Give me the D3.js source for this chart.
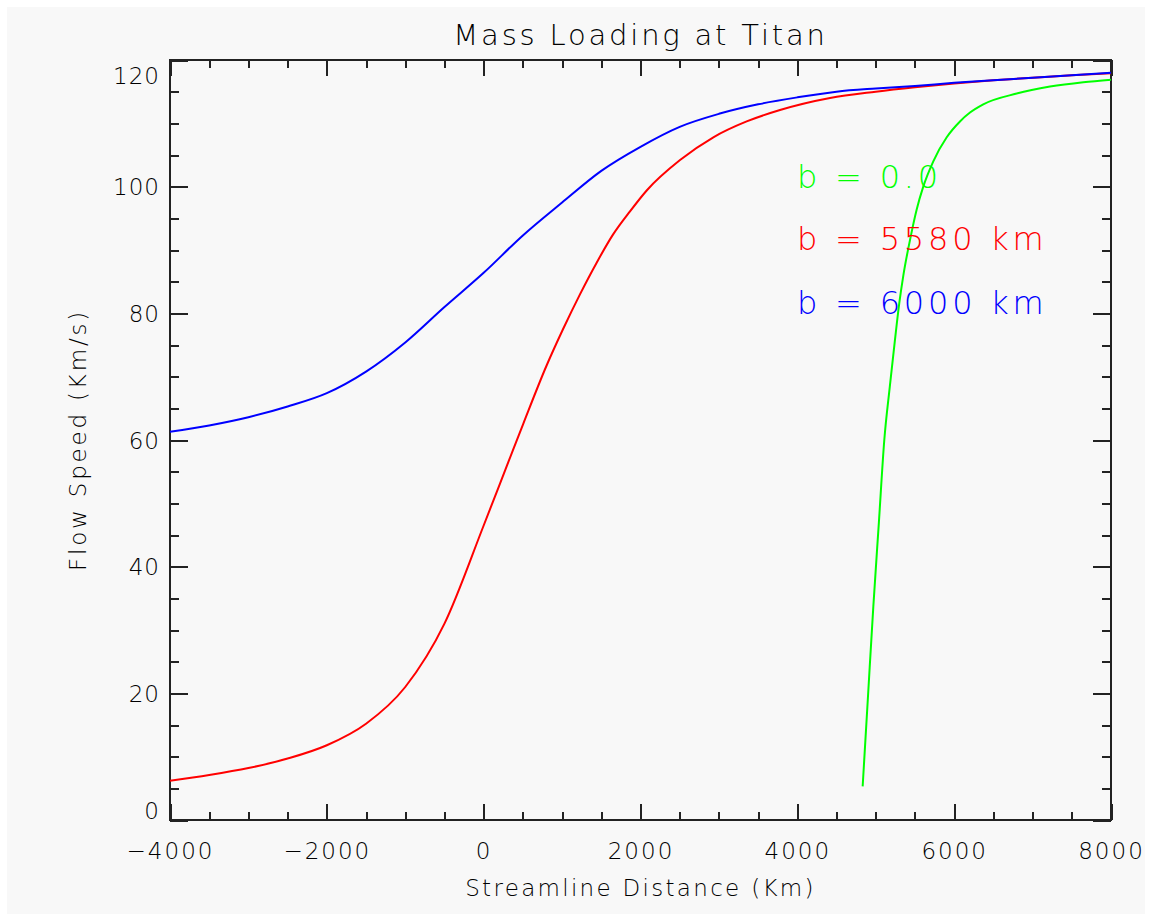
<!DOCTYPE html>
<html>
<head>
<meta charset="utf-8">
<script src="https://cdn.jsdelivr.net/npm/d3@7"></script>
<style>
  html, body { margin: 0; padding: 0; background: #ffffff; }
  svg { display: block; }
  text { font-family: "DejaVu Sans", "Liberation Sans", sans-serif; font-weight: 200; fill: #000; }
</style>
</head>
<body>
<svg id="chart" width="1152" height="921"></svg>
<script>
// ---- Data ----
const title = "Mass Loading at Titan";
const xLabel = "Streamline Distance (Km)";
const yLabel = "Flow Speed (Km/s)";

const xMajorTicks = [-4000, -2000, 0, 2000, 4000, 6000, 8000];
const yMajorTicks = [0, 20, 40, 60, 80, 100, 120];

// b = 6000 km (blue)
const blueX = [-4000, -3500, -3000, -2500, -2000, -1500, -1000, -500, 0, 500, 1000, 1500, 2000, 2500, 3000, 3500, 4000, 4500, 5000, 5500, 6000, 6500, 7000, 7500, 8000];
const blueY = [61.3, 62.3, 63.6, 65.3, 67.4, 70.8, 75.4, 81.0, 86.4, 92.3, 97.5, 102.5, 106.3, 109.45, 111.5, 113.0, 114.1, 115.0, 115.5, 115.9, 116.4, 116.8, 117.2, 117.6, 118.0];

// b = 5580 km (red)
const redX = [-4000, -3500, -3000, -2500, -2000, -1500, -1000, -500, 0, 314, 506, 804, 1016, 1228, 1441, 1653, 1866, 2079, 2504, 2929, 3354, 3779, 4417, 5000, 5500, 6000, 6500, 7000, 7500, 8000];
const redY = [6.2, 7.1, 8.2, 9.7, 11.8, 15.2, 21.0, 31.0, 46.5, 56.5, 62.6, 71.8, 77.6, 83.0, 88.0, 92.5, 96.1, 99.4, 104.2, 107.8, 110.3, 112.1, 114.0, 115.0, 115.7, 116.3, 116.8, 117.2, 117.6, 117.9];

// b = 0.0 (green)
const greenX = [4833, 4900, 4969, 5040, 5109, 5180, 5245, 5300, 5352, 5437, 5522, 5606, 5734, 5905, 6074, 6202, 6371, 6797, 7222, 7646, 8000];
const greenY = [5.3, 19.3, 33.7, 47.0, 60.0, 68.5, 75.8, 81.6, 86.0, 91.6, 96.4, 100.0, 104.0, 107.8, 110.3, 111.7, 113.0, 114.7, 115.8, 116.5, 116.9];

const legendLabels = ["b = 0.0", "b = 5580 km", "b = 6000 km"];
const seriesColors = ["#00ff00", "#ff0000", "#0000ff"];

// ---- Layout ----
const W = 1152, H = 921;
const plot = { left: 170, right: 1111, top: 60, bottom: 820 };

const svg = d3.select("#chart");

svg.append("rect").attr("x", 7).attr("y", 7).attr("width", W - 14).attr("height", H - 14)
  .attr("fill", "#f8f8f8");

const x = d3.scaleLinear().domain([-4000, 8000]).range([plot.left, plot.right]);
const y = d3.scaleLinear().domain([0, 120]).range([plot.bottom, plot.top]);

const xMinor = d3.range(-4000, 8001, 500).filter(v => !xMajorTicks.includes(v));
const yMinor = d3.range(0, 121, 5).filter(v => !yMajorTicks.includes(v));

function styleAxis(g) {
  g.select(".domain").remove();
  g.selectAll(".tick line").attr("stroke", "#222").attr("stroke-width", 2).attr("shape-rendering", "crispEdges");
}

// bottom axis (major with labels)
const gBottom = svg.append("g").attr("transform", `translate(0,${plot.bottom})`)
  .call(d3.axisBottom(x).tickValues(xMajorTicks).tickSizeInner(-16).tickSizeOuter(0).tickPadding(23)
    .tickFormat(d => d < 0 ? "\u2212" + Math.abs(d) : String(d)));
styleAxis(gBottom);
gBottom.selectAll("text").attr("font-size", 23).attr("fill", "#000").attr("letter-spacing", 2);

svg.append("g").attr("transform", `translate(0,${plot.bottom})`)
  .call(d3.axisBottom(x).tickValues(xMinor).tickSizeInner(-8).tickSizeOuter(0).tickFormat(""))
  .call(styleAxis);

// top axis
svg.append("g").attr("transform", `translate(0,${plot.top})`)
  .call(d3.axisTop(x).tickValues(xMajorTicks).tickSizeInner(-16).tickSizeOuter(0).tickFormat(""))
  .call(styleAxis);
svg.append("g").attr("transform", `translate(0,${plot.top})`)
  .call(d3.axisTop(x).tickValues(xMinor).tickSizeInner(-8).tickSizeOuter(0).tickFormat(""))
  .call(styleAxis);

// left axis (major with labels)
const gLeft = svg.append("g").attr("transform", `translate(${plot.left},0)`)
  .call(d3.axisLeft(y).tickValues(yMajorTicks).tickSizeInner(-18).tickSizeOuter(0).tickPadding(10));
styleAxis(gLeft);
gLeft.selectAll("text").attr("font-size", 23).attr("fill", "#000").attr("letter-spacing", 1)
  .attr("dy", d => d === 120 ? "1.0em" : d === 0 ? "-0.08em" : "0.36em");

svg.append("g").attr("transform", `translate(${plot.left},0)`)
  .call(d3.axisLeft(y).tickValues(yMinor).tickSizeInner(-9).tickSizeOuter(0).tickFormat(""))
  .call(styleAxis);

// right axis
svg.append("g").attr("transform", `translate(${plot.right},0)`)
  .call(d3.axisRight(y).tickValues(yMajorTicks).tickSizeInner(-18).tickSizeOuter(0).tickFormat(""))
  .call(styleAxis);
svg.append("g").attr("transform", `translate(${plot.right},0)`)
  .call(d3.axisRight(y).tickValues(yMinor).tickSizeInner(-9).tickSizeOuter(0).tickFormat(""))
  .call(styleAxis);

// frame
svg.append("rect").attr("x", plot.left).attr("y", plot.top)
  .attr("width", plot.right - plot.left).attr("height", plot.bottom - plot.top)
  .attr("fill", "none").attr("stroke", "#222").attr("stroke-width", 2);

// ---- Lines ----
const line = d3.line().x(d => x(d[0])).y(d => y(d[1])).curve(d3.curveMonotoneX);
const series = [
  { xs: greenX, ys: greenY, color: seriesColors[0] },
  { xs: redX, ys: redY, color: seriesColors[1] },
  { xs: blueX, ys: blueY, color: seriesColors[2] }
];
series.forEach(s => {
  svg.append("path")
    .datum(s.xs.map((v, i) => [v, s.ys[i]]))
    .attr("fill", "none").attr("stroke", s.color).attr("stroke-width", 2)
    .attr("d", line);
});

// ---- Legend ----
const legendX = 797;
const legendBaselines = [188, 250, 314];
legendLabels.forEach((t, i) => {
  svg.append("text").attr("x", legendX).attr("y", legendBaselines[i])
    .attr("font-size", 32).attr("letter-spacing", 3.8)
    .style("fill", seriesColors[i]).text(t);
});

// ---- Titles ----
svg.append("text").attr("x", (plot.left + plot.right) / 2).attr("y", 45)
  .attr("text-anchor", "middle").attr("font-size", 29).attr("letter-spacing", 2.8).text(title);

svg.append("text").attr("x", (plot.left + plot.right) / 2).attr("y", 896)
  .attr("text-anchor", "middle").attr("font-size", 23).attr("letter-spacing", 2.3).text(xLabel);

svg.append("text").attr("transform", `translate(86,${(plot.top + plot.bottom) / 2}) rotate(-90)`)
  .attr("text-anchor", "middle").attr("font-size", 23).attr("letter-spacing", 2.8).text(yLabel);
</script>
</body>
</html>
